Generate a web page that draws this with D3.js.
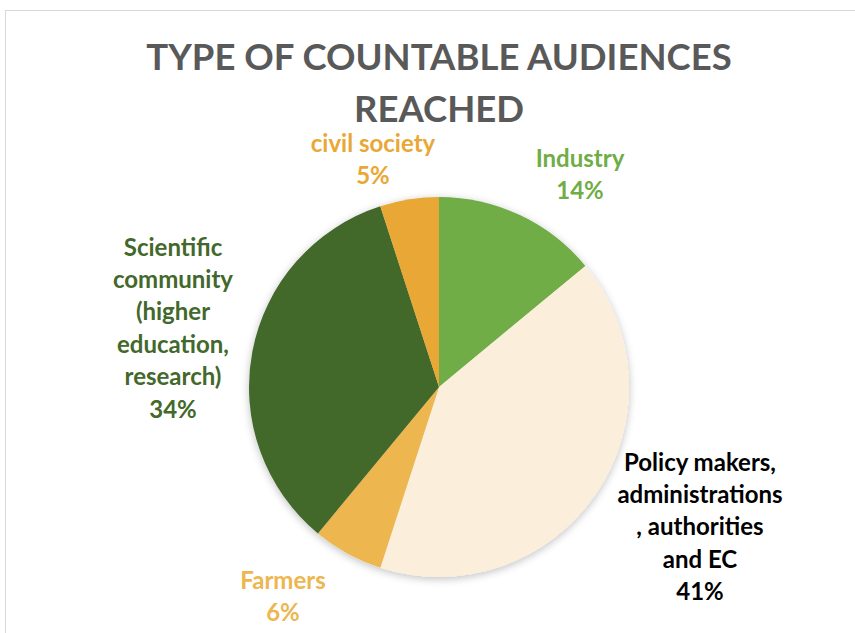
<!DOCTYPE html>
<html><head><meta charset="utf-8">
<script src="https://cdn.jsdelivr.net/npm/d3@7"></script>
<style>html,body{margin:0;padding:0;background:#fff;}svg{display:block;}</style>
</head><body>
<svg id="c" width="855" height="633"></svg>
<script>
const categories = ["Industry", "Policy makers, administrations , authorities and EC", "Farmers", "Scientific community (higher education, research)", "civil society"];
const values = [14, 41, 6, 34, 5];
const colors = ["#70AD47", "#FBEEDB", "#EDB64F", "#43682B", "#E9A835"];
const labelColors = ["#70AD47", "#000000", "#EDB64F", "#43682B", "#E9A835"];
const labelLines = [
  ["Industry", "14%"],
  ["Policy makers,", "administrations", ", authorities", "and EC", "41%"],
  ["Farmers", "6%"],
  ["Scientific", "community", "(higher", "education,", "research)", "34%"],
  ["civil society", "5%"]
];
const labelPos = [[580, 158], [700, 462], [283, 580], [173, 247], [373, 143]];
const titleLines = ["TYPE OF COUNTABLE AUDIENCES", "REACHED"];

const svg = d3.select("#c");
const font = "Lato, 'Open Sans', sans-serif";
svg.append("rect").attr("x", 5.5).attr("y", 10.5).attr("width", 860).attr("height", 640)
  .attr("fill", "#fff").attr("stroke", "#D9D9D9").attr("stroke-width", 1);

const defs = svg.append("defs");
const f = defs.append("filter").attr("id", "sh").attr("x", "-20%").attr("y", "-20%").attr("width", "140%").attr("height", "140%");
f.append("feGaussianBlur").attr("in", "SourceAlpha").attr("stdDeviation", 4).attr("result", "b");
f.append("feOffset").attr("dx", 0).attr("dy", 2).attr("result", "o");
f.append("feComponentTransfer").append("feFuncA").attr("type", "linear").attr("slope", 0.25);
const m = f.append("feMerge");
m.append("feMergeNode");
m.append("feMergeNode").attr("in", "SourceGraphic");

svg.append("g").selectAll("text").data(titleLines).join("text")
  .attr("x", 439).attr("y", (d, i) => 70 + i * 51.5)
  .attr("text-anchor", "middle").attr("fill", "#595959")
  .attr("font-family", font).attr("font-weight", "bold").attr("font-size", 36.5)
  .text(d => d);

const cx = 439, cy = 387, r = 190;
const pie = d3.pie().sort(null).value(d => d)(values);
const arc = d3.arc().innerRadius(0).outerRadius(r);
const g = svg.append("g").attr("transform", `translate(${cx},${cy})`);
g.append("g").attr("filter", "url(#sh)").selectAll("path").data(pie).join("path")
  .attr("d", arc).attr("fill", (d, i) => colors[i]);

const lg = svg.append("g");
labelLines.forEach((lines, i) => {
  const t = lg.append("text").attr("text-anchor", "middle")
    .attr("font-family", font).attr("font-weight", "bold").attr("font-size", 24)
    .attr("fill", labelColors[i]);
  lines.forEach((ln, j) => {
    t.append("tspan").attr("x", labelPos[i][0]).attr("y", labelPos[i][1] + j * 32.4 + 8.5).text(ln);
  });
});
</script>
</body></html>
